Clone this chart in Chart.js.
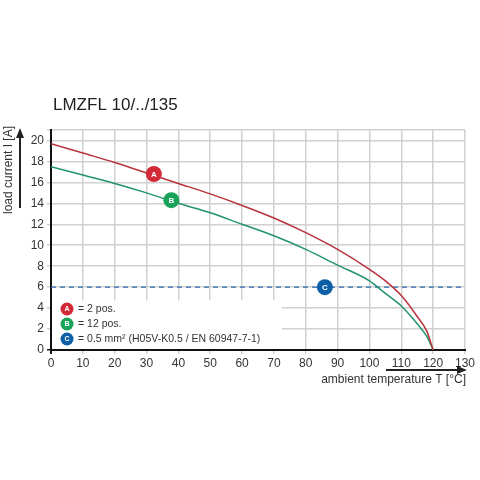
<!DOCTYPE html>
<html><head><meta charset="utf-8">
<script src="https://cdn.jsdelivr.net/npm/chart.js@4"></script>
<style>body{margin:0;background:#fff}#c{display:block}</style>
</head><body>
<canvas id="c" width="480" height="480"></canvas>
<script>
const temps = [0, 10, 20, 30, 40, 50, 60, 70, 80, 90, 100, 105, 110, 115, 118, 120]
const curveA = [19.7, 18.8, 17.9, 16.9, 15.9, 14.9, 13.8, 12.6, 11.2, 9.6, 7.7, 6.6, 5.2, 3.2, 1.8, 0]
const curveB = [17.5, 16.7, 15.9, 15.0, 14.0, 13.1, 12.0, 10.9, 9.6, 8.1, 6.6, 5.4, 4.2, 2.5, 1.3, 0]
const limitC = 6
const markers = [
  { letter: 'A', x: 32.3, y: 16.8, color: '#d32a37' },
  { letter: 'B', x: 37.8, y: 14.3, color: '#19a35a' },
  { letter: 'C', x: 86, y: 6, color: '#0d5fa6' }
]
const legendItems = [
  { letter: 'A', text: '= 2 pos.', color: '#d32a37' },
  { letter: 'B', text: '= 12 pos.', color: '#19a35a' },
  { letter: 'C', text: '= 0.5 mm² (H05V-K0.5 / EN 60947-7-1)', color: '#0d5fa6' }
]
const xTicks = [0, 10, 20, 30, 40, 50, 60, 70, 80, 90, 100, 110, 120, 130]
const yTicks = [0, 2, 4, 6, 8, 10, 12, 14, 16, 18, 20]

const FONT = 'Arial, "Liberation Sans", sans-serif'

function badge(ctx, x, y, r, letter, color) {
  ctx.beginPath()
  ctx.arc(x, y, r, 0, Math.PI * 2)
  ctx.fillStyle = color
  ctx.fill()
  ctx.fillStyle = '#fff'
  ctx.font = `bold ${Math.round(r)}px ${FONT}`
  ctx.textAlign = 'center'
  ctx.textBaseline = 'middle'
  ctx.fillText(letter, x, y + 0.5)
}

const decor = {
  id: 'decor',
  beforeDatasetsDraw(chart) {
    // white box behind legend
    const ctx = chart.ctx
    const { x, y } = chart.scales
    ctx.fillStyle = '#fff'
    ctx.fillRect(x.getPixelForValue(0) + 1, y.getPixelForValue(4.8), x.getPixelForValue(72.5) - x.getPixelForValue(0) - 1, y.getPixelForValue(0) - y.getPixelForValue(4.8) - 1)
  },
  afterDraw(chart) {
    const ctx = chart.ctx
    const { x, y } = chart.scales
    ctx.save()
    markers.forEach(m => badge(ctx, x.getPixelForValue(m.x), y.getPixelForValue(m.y), 8, m.letter, m.color))
    legendItems.forEach((it, i) => {
      const py = 309 + i * 15
      badge(ctx, 67, py, 6.5, it.letter, it.color)
      ctx.fillStyle = '#333'
      ctx.font = `10.5px ${FONT}`
      ctx.textAlign = 'left'
      ctx.fillText(it.text, 78, py)
    })
    // title
    ctx.fillStyle = '#222'
    ctx.font = `17px ${FONT}`
    ctx.textAlign = 'left'
    ctx.textBaseline = 'middle'
    ctx.fillText('LMZFL 10/../135', 53, 105)
    // y arrow + label
    ctx.strokeStyle = '#222'; ctx.fillStyle = '#222'; ctx.lineWidth = 2
    ctx.beginPath(); ctx.moveTo(20, 208); ctx.lineTo(20, 136); ctx.stroke()
    ctx.beginPath(); ctx.moveTo(20, 128); ctx.lineTo(16, 138); ctx.lineTo(24, 138); ctx.closePath(); ctx.fill()
    ctx.save()
    ctx.translate(9, 170); ctx.rotate(-Math.PI / 2)
    ctx.font = `12px ${FONT}`; ctx.textAlign = 'center'
    ctx.fillStyle = '#333'
    ctx.fillText('load current I [A]', 0, 0)
    ctx.restore()
    // x arrow + label
    ctx.beginPath(); ctx.moveTo(386, 370); ctx.lineTo(458, 370); ctx.stroke()
    ctx.beginPath(); ctx.moveTo(467, 370); ctx.lineTo(457, 366); ctx.lineTo(457, 374); ctx.closePath(); ctx.fill()
    ctx.font = `12px ${FONT}`; ctx.textAlign = 'right'; ctx.fillStyle = '#333'
    ctx.fillText('ambient temperature T [°C]', 466, 380)
    ctx.restore()
  }
}

new Chart(document.getElementById('c'), {
  type: 'line',
  data: {
    datasets: [
      { data: temps.map((t, i) => ({ x: t, y: curveA[i] })), borderColor: '#b8323d', borderWidth: 1.5, pointRadius: 0, tension: 0.4, cubicInterpolationMode: 'monotone' },
      { data: temps.map((t, i) => ({ x: t, y: curveB[i] })), borderColor: '#22936a', borderWidth: 1.5, pointRadius: 0, tension: 0.4, cubicInterpolationMode: 'monotone' },
      { data: [{ x: 0, y: limitC }, { x: 130, y: limitC }], borderColor: '#2c6cae', borderWidth: 1.3, borderDash: [5, 4], pointRadius: 0 }
    ]
  },
  options: {
    responsive: false,
    animation: false,
    layout: { padding: { left: 0, top: 130, right: 15, bottom: 110 } },
    plugins: { legend: { display: false }, tooltip: { enabled: false } },
    scales: {
      x: {
        type: 'linear', min: 0, max: 130,
        afterBuildTicks: s => { s.ticks = xTicks.map(v => ({ value: v })) },
        afterFit: s => { s.height = 20 },
        ticks: { color: '#333', font: { size: 12, family: FONT }, padding: 2, maxRotation: 0 },
        grid: { color: c => c.tick && c.tick.value === 0 ? '#111' : '#d0d0d0', lineWidth: c => c.tick && c.tick.value === 0 ? 2 : 1.5, drawTicks: true, tickLength: 4 },
        border: { color: '#111', width: 2 }
      },
      y: {
        min: 0, max: 21,
        afterBuildTicks: s => { s.ticks = yTicks.concat([21]).map(v => ({ value: v })) },
        afterFit: s => { s.width = 51 },
        ticks: { color: '#333', font: { size: 12, family: FONT }, padding: 3, callback: v => v === 21 ? '' : v },
        grid: { color: c => c.tick && c.tick.value === 0 ? '#111' : '#d0d0d0', lineWidth: 1.5, tickLength: 4 },
        border: { color: '#111', width: 2 }
      }
    }
  },
  plugins: [decor]
})
</script>
</body></html>
